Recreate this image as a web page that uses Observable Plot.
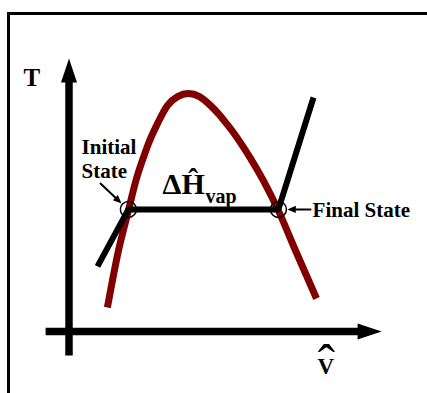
<!DOCTYPE html>
<html><head><meta charset="utf-8">
<script src="https://cdn.jsdelivr.net/npm/d3@7"></script>
<script src="https://cdn.jsdelivr.net/npm/@observablehq/plot@0.6"></script>
<style>
html,body{margin:0;padding:0;background:#fff;}
#wrap{position:relative;width:427px;height:393px;overflow:hidden;}
#wrap svg{position:absolute;left:0;top:0;}
#frame{position:absolute;left:7px;top:12px;width:700px;height:700px;border-top:3px solid #000;border-left:3px solid #000;}
</style></head><body><div id="wrap"></div>
<script>
// Saturation dome (V-hat, T), arbitrary units
const domeV = [12.8, 16.5, 19.8, 22.3, 24.7, 26.5, 29.5, 32.8, 36.2, 39.8, 43.5, 47.2, 49.7, 52.5, 54.3, 57.3, 60.5, 64.8, 69.8, 75.5, 82.5];
const domeT = [8.0, 27.0, 40.3, 50.3, 57.7, 62.7, 69.3, 75.3, 78.3, 79.3, 78.3, 75.3, 72.7, 69.3, 67.0, 62.7, 57.7, 50.3, 40.3, 27.0, 11.0];
// Heating path: liquid -> vaporization -> vapor
const pathV = [9.5, 19.8, 69.8, 81.5];
const pathT = [21.7, 40.7, 40.7, 78.0];
// Initial and final states
const stateV = [19.8, 69.8];
const stateT = [40.7, 40.7];
// Axes extents
const axisYT = [-8, 91];
const axisXV = [-7.8, 104.2];
// Annotation arrows [fromV, fromT, toV, toT]
const annV1 = [10.5, 80.5], annT1 = [49.3, 40.7], annV2 = [17.5, 72.8], annT2 = [42.7, 40.7];
// Labels
const labelText = ["T", "Initial\nState", "Final State", "\u0394\u0124", "vap", "V"];
const labelV = [-15.2, 4.2, 81.2, 31.2, 45.5, 82.8];
const labelT = [81.7, 51.3, 38.3, 46.0, 42.7, -14.0];
const labelSize = [25, 21, 21, 30, 20, 23];
// Hat over V
const hatText = ["\u02C6"];
const hatV = [85.8];
const hatT = [-16.5];
const hatSize = [52];

function head(x1, y1, x2, y2, len, hw, id) {
  const dx = x2 - x1, dy = y2 - y1, d = Math.hypot(dx, dy), ux = dx / d, uy = dy / d;
  const bx = x2 - ux * len, by = y2 - uy * len;
  return {
    shaft: [{x: x1, y: y1, id}, {x: bx + ux * 0.3, y: by + uy * 0.3, id}],
    tri: [{x: x2, y: y2, id}, {x: bx - uy * hw, y: by + ux * hw, id}, {x: bx + uy * hw, y: by - ux * hw, id}]
  };
}

const dome = domeV.map((v, i) => ({v, t: domeT[i]}));
const path = pathV.map((v, i) => ({v, t: pathT[i]}));
const states = stateV.map((v, i) => ({v, t: stateT[i]}));
const labels = labelText.map((s, i) => ({s, v: labelV[i], t: labelT[i], size: labelSize[i]}));
const hats = hatText.map((s, i) => ({s, v: hatV[i], t: hatT[i], size: hatSize[i]}));

const axY = head(0, axisYT[0], 0, axisYT[1], 8, 2.67, "y");
const axX = head(axisXV[0], 0, axisXV[1], 0, 8, 2.67, "x");
const ann = annV1.map((_, i) => head(annV1[i], annT1[i], annV2[i], annT2[i], 2.8, 1.2, "a" + i));

const axisShafts = [...axY.shaft, ...axX.shaft];
const tris = [axY.tri, axX.tri, ...ann.map(a => a.tri)].flat();
const annShafts = ann.flatMap(a => a.shaft);

const chart = Plot.plot({
  width: 427, height: 393, margin: 0,
  style: {background: "transparent"},
  x: {domain: [-68.5 / 3, (427 - 68.5) / 3], axis: null},
  y: {domain: [(331 - 393) / 3, 331 / 3], axis: null},
  marks: [
    Plot.line(axisShafts, {x: "x", y: "y", z: "id", stroke: "black", strokeWidth: 7.5, strokeLinecap: "butt"}),
    Plot.line(dome, {x: "v", y: "t", stroke: "#800000", strokeWidth: 7, curve: "monotone-x", strokeLinecap: "butt"}),
    Plot.line(path, {x: "v", y: "t", stroke: "black", strokeWidth: 6, strokeLinecap: "butt", strokeLinejoin: "miter"}),
    Plot.dot(states, {x: "v", y: "t", r: 8, stroke: "black", strokeWidth: 1.5, fill: "none"}),
    Plot.line(annShafts, {x: "x", y: "y", z: "id", stroke: "black", strokeWidth: 2}),
    Plot.line(tris, {x: "x", y: "y", z: "id", fill: "black", stroke: "none"}),
    Plot.text(labels, {x: "v", y: "t", text: "s", fontSize: "size", fontWeight: "bold", fontFamily: "Liberation Serif", textAnchor: "start", lineAnchor: "bottom", lineHeight: 1.14, fill: "black"}),
    Plot.text(hats, {x: "v", y: "t", text: "s", fontSize: "size", fontWeight: "normal", fontFamily: "Liberation Serif", textAnchor: "middle", lineAnchor: "bottom", fill: "black"})
  ]
});
const wrap = document.getElementById("wrap");
wrap.appendChild(chart);
const fr = document.createElement("div");
fr.id = "frame";
wrap.appendChild(fr);
</script></body></html>
